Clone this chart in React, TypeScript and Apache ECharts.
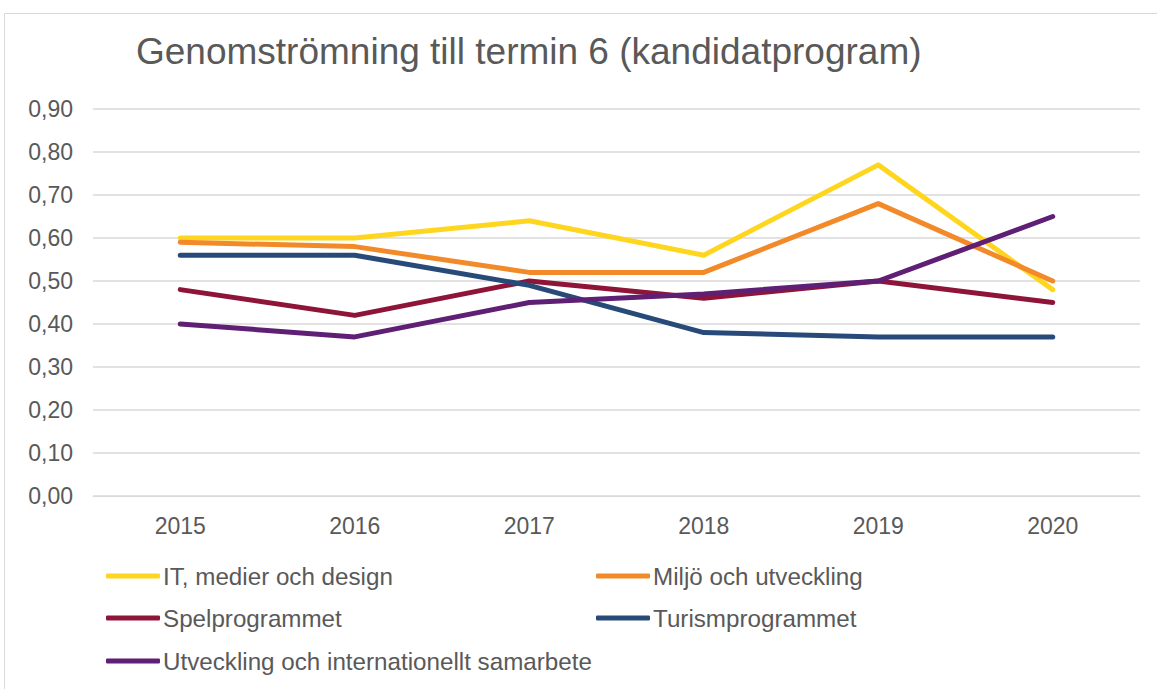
import React, { useEffect, useRef } from "react";
import * as echarts from "echarts";

const years = ["2015", "2016", "2017", "2018", "2019", "2020"];
const seriesNames = [
  "IT, medier och design",
  "Miljö och utveckling",
  "Spelprogrammet",
  "Turismprogrammet",
  "Utveckling och internationellt samarbete",
];
const itValues = [0.6, 0.6, 0.64, 0.56, 0.77, 0.48];
const miljoValues = [0.59, 0.58, 0.52, 0.52, 0.68, 0.5];
const spelValues = [0.48, 0.42, 0.5, 0.46, 0.5, 0.45];
const turismValues = [0.56, 0.56, 0.49, 0.38, 0.37, 0.37];
const utvValues = [0.4, 0.37, 0.45, 0.47, 0.5, 0.65];
const colors = ["#FFD61F", "#F28A2A", "#8F1538", "#284A79", "#5F1F74"];
const allValues = [itValues, miljoValues, spelValues, turismValues, utvValues];

const FONT = "'Liberation Sans', Arial, sans-serif";

export default function App() {
  const ref = useRef<HTMLDivElement>(null);
  useEffect(() => {
    if (!ref.current) return;
    const chart = echarts.init(ref.current, null, { renderer: "svg" });
    const legendPos = [
      { left: 106, top: 564 },
      { left: 596, top: 564 },
      { left: 106, top: 606 },
      { left: 596, top: 606 },
      { left: 106, top: 649 },
    ];
    chart.setOption({
      animation: false,
      color: colors,
      title: {
        text: "Genomströmning till termin 6 (kandidatprogram)",
        left: 131,
        top: 28,
        textStyle: { fontFamily: FONT, fontSize: 37, fontWeight: "normal", color: "#595959" },
      },
      graphic: [
        {
          type: "rect",
          shape: { x: 4.5, y: 13.5, width: 1160, height: 690 },
          style: { fill: "none", stroke: "#D9D9D9", lineWidth: 1 },
          silent: true,
        },
      ],
      legend: seriesNames.map((name, i) => ({
        data: [name],
        left: legendPos[i].left,
        top: legendPos[i].top,
        itemWidth: 54,
        itemHeight: 5,
        itemGap: 0,
        padding: 0,
        icon: "roundRect",
        textStyle: { fontFamily: FONT, fontSize: 24.2, color: "#595959", padding: [0, 0, 0, -2] },
      })),
      grid: { left: 93, right: 17, top: 109, bottom: 193, containLabel: false },
      xAxis: {
        type: "category",
        data: years,
        boundaryGap: true,
        axisLine: { lineStyle: { color: "#D9D9D9", width: 1 } },
        axisTick: { show: false },
        axisLabel: { fontFamily: FONT, fontSize: 23, color: "#595959", margin: 18 },
      },
      yAxis: {
        type: "value",
        min: 0,
        max: 0.9,
        interval: 0.1,
        axisLine: { show: false },
        axisTick: { show: false },
        splitLine: { lineStyle: { color: "#D9D9D9", width: 1.5 } },
        axisLabel: {
          fontFamily: FONT,
          fontSize: 23,
          color: "#595959",
          margin: 20,
          formatter: (v: number) => v.toFixed(2).replace(".", ","),
        },
      },
      series: seriesNames.map((name, i) => ({
        name,
        type: "line",
        data: allValues[i],
        symbol: "none",
        lineStyle: { width: 5, cap: "round", join: "round", color: colors[i] },
        itemStyle: { color: colors[i] },
      })),
    });
    return () => chart.dispose();
  }, []);
  return (
    <div
      ref={ref}
      style={{ position: "absolute", left: 0, top: 0, width: 1157, height: 689, background: "#fff" }}
    />
  );
}
